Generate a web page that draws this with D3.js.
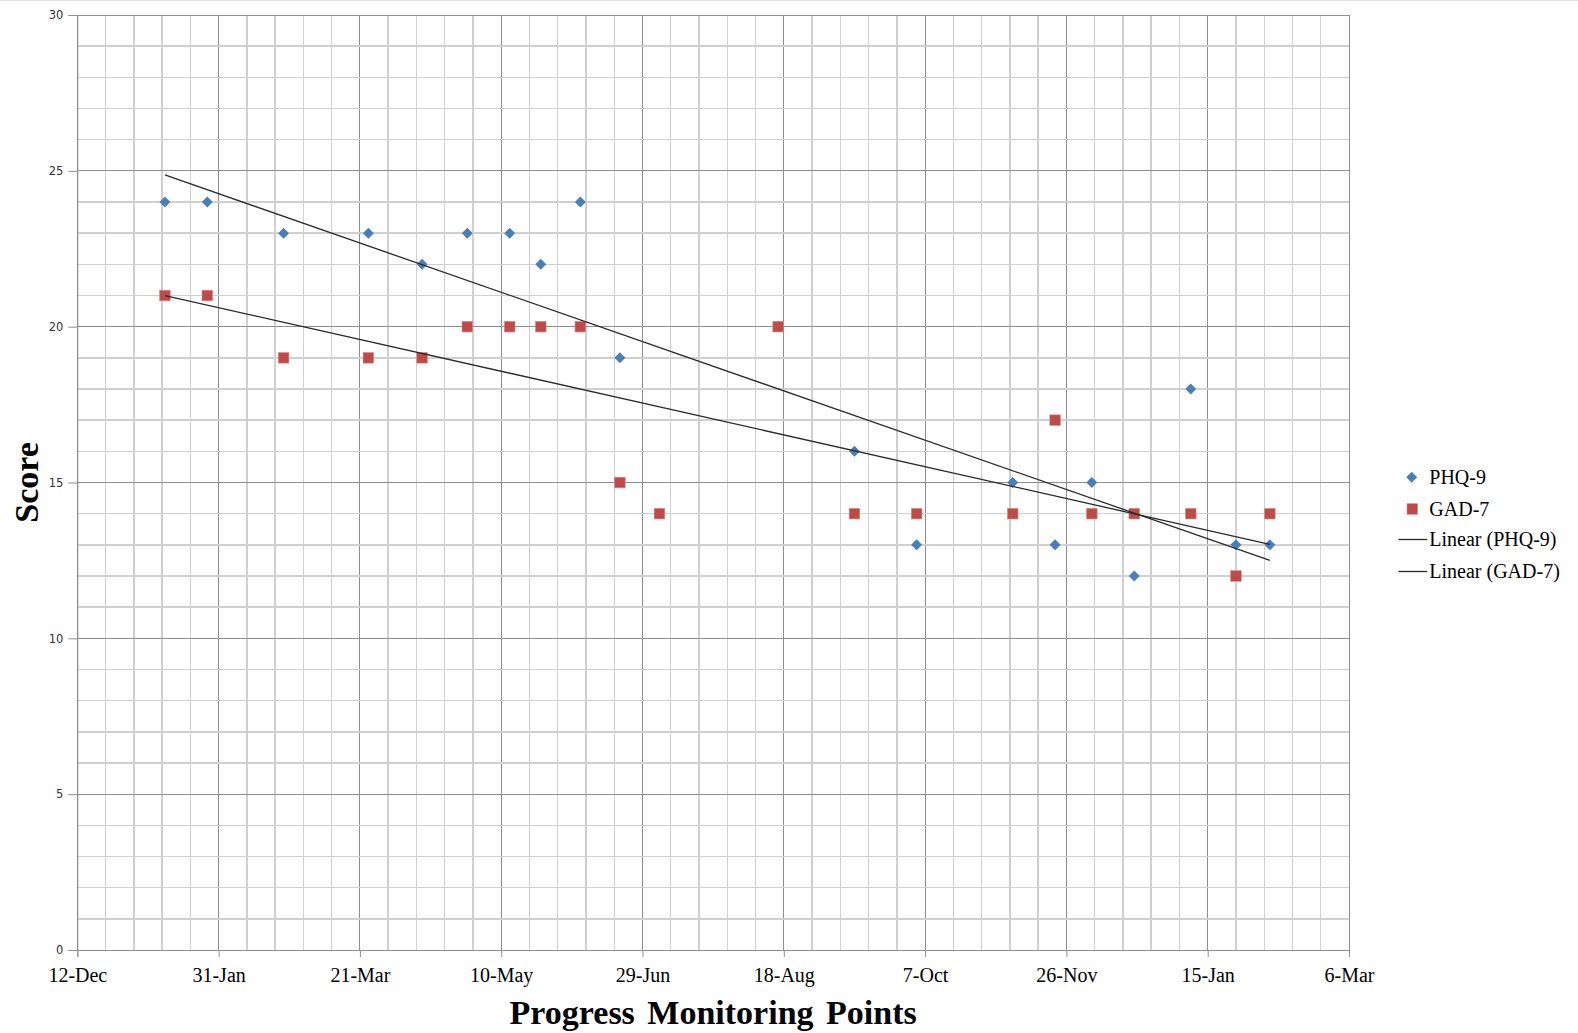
<!DOCTYPE html>
<html>
<head>
<meta charset="utf-8">
<script src="https://cdn.jsdelivr.net/npm/d3@7"></script>
<style>
  html, body { margin: 0; padding: 0; background: #fff; }
  svg { display: block; }
</style>
</head>
<body>
<svg id="chart" width="1578" height="1033"></svg>
<script>
// ---- data ----
const dates = ["2012-01-12","2012-01-27","2012-02-23","2012-03-24","2012-04-12","2012-04-28",
  "2012-05-13","2012-05-24","2012-06-07","2012-06-21","2012-07-05","2012-08-16","2012-09-12",
  "2012-10-04","2012-11-07","2012-11-22","2012-12-05","2012-12-20","2013-01-09","2013-01-25","2013-02-06"];
const phq9 = [24,24,23,23,22,23,23,22,24,19,14,20,16,13,15,13,15,12,18,13,13];
const gad7 = [21,21,19,19,19,20,20,20,20,15,14,20,14,14,14,17,14,14,14,12,14];
const xTickDates = ["2011-12-12","2012-01-31","2012-03-21","2012-05-10","2012-06-29",
  "2012-08-18","2012-10-07","2012-11-26","2013-01-15","2013-03-06"];
const xTickLabels = ["12-Dec","31-Jan","21-Mar","10-May","29-Jun","18-Aug","7-Oct","26-Nov","15-Jan","6-Mar"];
const yTicks = [0,5,10,15,20,25,30];
const seriesNames = ["PHQ-9","GAD-7"];

// ---- layout ----
const L = 77.3, R = 1349, T = 15, B = 950;
const parse = d3.utcParse("%Y-%m-%d");
const xDates = xTickDates.map(parse);
const start = xDates[0], end = xDates[xDates.length - 1];
const x = d3.scaleUtc().domain([start, end]).range([L, R]);
const y = d3.scaleLinear().domain([0, 30]).range([B, T]);

const svg = d3.select("#chart");
svg.append("line").attr("x1", 0).attr("x2", 1578).attr("y1", 0.5).attr("y2", 0.5)
  .attr("stroke", "#e2e2e2");

const grid = svg.append("g").attr("shape-rendering", "crispEdges");
const dayIdx = d => Math.round((d - start) / 864e5);
// minor vertical gridlines (every 10 days)
const minorX = d3.utcDay.range(start, d3.utcDay.offset(end, 1), 1).filter(d => dayIdx(d) % 10 === 0);
grid.selectAll(".vminor").data(minorX).join("line")
  .attr("x1", d => x(d)).attr("x2", d => x(d)).attr("y1", T).attr("y2", B)
  .attr("stroke", d => dayIdx(d) % 50 === 0 ? "#8f8f8f" : "#d0d0d0")
  .attr("stroke-width", d => dayIdx(d) % 50 === 0 ? 1 : 1.4);
// horizontal gridlines (every 1)
grid.selectAll(".hminor").data(d3.range(0, 31)).join("line")
  .attr("x1", L).attr("x2", R).attr("y1", d => y(d)).attr("y2", d => y(d))
  .attr("stroke", d => d % 5 === 0 ? "#8f8f8f" : "#d0d0d0")
  .attr("stroke-width", d => d % 5 === 0 ? 1 : 1.4);
// plot border
grid.append("rect").attr("x", L).attr("y", T).attr("width", R - L).attr("height", B - T)
  .attr("fill", "none").attr("stroke", "#8f8f8f");

// axes
const yAxis = d3.axisLeft(y).tickValues(yTicks).tickSize(9).tickPadding(5);
const gy = svg.append("g").attr("transform", `translate(${L},0)`).call(yAxis);
gy.select(".domain").attr("stroke", "#8f8f8f");
gy.selectAll(".tick line").attr("stroke", "#8f8f8f");
gy.selectAll(".tick text").attr("font-family", "'DejaVu Sans', Verdana, sans-serif")
  .attr("font-size", 11.5).attr("fill", "#333");

const xAxis = d3.axisBottom(x).tickValues(xDates).tickSize(7).tickPadding(11)
  .tickFormat((d, i) => xTickLabels[i]);
const gx = svg.append("g").attr("transform", `translate(0,${B})`).call(xAxis);
gx.select(".domain").attr("stroke", "#8f8f8f");
gx.selectAll(".tick line").attr("stroke", "#8f8f8f");
gx.selectAll(".tick text").attr("font-family", "'Liberation Serif', 'Times New Roman', serif")
  .attr("font-size", 20).attr("fill", "#000");

// points
const pts = dates.map((d, i) => ({ date: parse(d), phq: phq9[i], gad: gad7[i] }));
const diamond = d3.symbol().type(d3.symbolDiamond2).size(76);
svg.append("g").selectAll("path").data(pts).join("path")
  .attr("d", diamond)
  .attr("transform", d => `translate(${x(d.date)},${y(d.phq)})`)
  .attr("fill", "#4A7EBB");
svg.append("g").selectAll("rect").data(pts).join("rect")
  .attr("x", d => x(d.date) - 5.3).attr("y", d => y(d.gad) - 5.3)
  .attr("width", 10.6).attr("height", 10.6)
  .attr("fill", "#BE4B48").attr("stroke", "#d88a88").attr("stroke-width", 0.6);

// linear trendlines (least squares)
function trend(key) {
  const xs = pts.map(p => dayIdx(p.date)), ys = pts.map(p => p[key]);
  const mx = d3.mean(xs), my = d3.mean(ys);
  const sxy = d3.sum(xs, (v, i) => (v - mx) * (ys[i] - my));
  const sxx = d3.sum(xs, v => (v - mx) * (v - mx));
  const b = sxy / sxx, a = my - b * mx;
  const x0 = d3.min(xs), x1 = d3.max(xs);
  return [[x0, a + b * x0], [x1, a + b * x1]];
}
["phq", "gad"].forEach(k => {
  const t = trend(k);
  svg.append("line")
    .attr("x1", x(d3.utcDay.offset(start, t[0][0])))
    .attr("x2", x(d3.utcDay.offset(start, t[1][0])))
    .attr("y1", y(t[0][1])).attr("y2", y(t[1][1]))
    .attr("stroke", "#2a2a2a").attr("stroke-width", 1.3);
});

// axis titles
svg.append("text").attr("x", (L + R) / 2).attr("y", 1024).attr("text-anchor", "middle")
  .attr("font-family", "'Liberation Serif', 'Times New Roman', serif").attr("font-weight", "bold")
  .attr("font-size", 34).attr("word-spacing", 4).text("Progress Monitoring Points");
svg.append("text").attr("transform", `translate(37.5,${(T + B) / 2}) rotate(-90)`)
  .attr("text-anchor", "middle")
  .attr("font-family", "'Liberation Serif', 'Times New Roman', serif").attr("font-weight", "bold")
  .attr("font-size", 34).text("Score");

// legend
const lg = svg.append("g").attr("font-family", "'Liberation Serif', 'Times New Roman', serif")
  .attr("font-size", 20).attr("fill", "#000");
const legendItems = [
  { label: seriesNames[0], kind: "diamond", cy: 477.3 },
  { label: seriesNames[1], kind: "square", cy: 509 },
  { label: "Linear (" + seriesNames[0] + ")", kind: "line", cy: 539.5 },
  { label: "Linear (" + seriesNames[1] + ")", kind: "line", cy: 571.5 }
];
legendItems.forEach(it => {
  if (it.kind === "diamond") {
    lg.append("path").attr("d", diamond).attr("transform", `translate(1411.7,${it.cy})`).attr("fill", "#4A7EBB");
  } else if (it.kind === "square") {
    lg.append("rect").attr("x", 1412.3 - 5.3).attr("y", it.cy - 5.3).attr("width", 10.6).attr("height", 10.6)
      .attr("fill", "#BE4B48").attr("stroke", "#d88a88").attr("stroke-width", 0.6);
  } else {
    lg.append("line").attr("x1", 1398.3).attr("x2", 1427.3).attr("y1", it.cy).attr("y2", it.cy)
      .attr("stroke", "#2a2a2a").attr("stroke-width", 1.3);
  }
  lg.append("text").attr("x", 1429.3).attr("y", it.cy + 6.8).text(it.label);
});
</script>
</body>
</html>
